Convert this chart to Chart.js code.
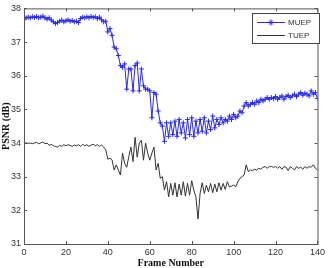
<!DOCTYPE html>
<html>
<head>
<meta charset="utf-8">
<script src="https://cdn.jsdelivr.net/npm/chart.js@4/dist/chart.umd.min.js"></script>
<style>
  html, body { margin: 0; padding: 0; background: #fff; }
  #wrap { width: 328px; height: 268px; }
</style>
</head>
<body>
<div id="wrap"><canvas id="chart" width="328" height="268"></canvas></div>
<script>
// frame numbers 0..140, one value per frame
const muep = [
    37.68, 37.72, 37.74, 37.72, 37.75, 37.73, 37.76, 37.72, 37.74, 37.77,
    37.72, 37.68, 37.72, 37.65, 37.6, 37.55, 37.58, 37.62, 37.65, 37.6,
    37.63, 37.66, 37.62, 37.64, 37.6, 37.62, 37.58, 37.7, 37.74, 37.72,
    37.75, 37.72, 37.76, 37.73, 37.75, 37.7, 37.74, 37.66, 37.6, 37.62,
    37.3, 37.4, 37.2, 36.85, 36.8, 36.6, 36.3, 36.25, 36.35, 35.6,
    36.2, 36.2, 35.55, 36.3, 36.38, 35.55, 36.2, 35.7, 35.6, 35.6,
    35.55, 34.75, 35.5, 35.45, 34.95, 34.6, 34.5, 34.05, 34.6, 34.2,
    34.6, 34.25, 34.65, 34.2, 34.7, 34.3, 34.6, 34.15, 34.7, 34.25,
    34.75, 34.2, 34.65, 34.3, 34.7, 34.35, 34.75, 34.3, 34.65, 34.4,
    34.8, 34.45, 34.7, 34.55, 34.75, 34.6, 34.7, 34.65, 34.8, 34.7,
    34.85, 34.75, 34.8, 34.95, 34.9, 35.1, 35.2, 35.1, 35.15, 35.2,
    35.15, 35.25, 35.2, 35.3, 35.25, 35.3, 35.35, 35.3, 35.35, 35.32,
    35.38, 35.3, 35.35, 35.4, 35.3, 35.38, 35.42, 35.35, 35.4, 35.45,
    35.38, 35.45, 35.5, 35.42, 35.48, 35.45, 35.4, 35.55, 35.45, 35.5,
    35.32
];
const tuep = [
    34.0, 34.0, 33.99, 34.0, 33.98, 34.0, 34.02, 33.98, 34.0, 34.03,
    33.98, 34.0, 33.93, 33.96, 33.92, 33.9, 33.88, 33.93, 33.9, 33.95,
    33.92, 33.95, 33.93, 33.9, 33.94, 33.92, 33.95, 33.9, 33.96, 33.92,
    33.95, 33.9, 33.94, 33.96, 33.92, 33.95, 33.9, 33.94, 33.88, 33.8,
    33.52, 33.55, 33.5, 33.2, 33.35, 33.2, 33.05, 33.7, 33.4, 33.28,
    33.6, 33.88, 33.45, 34.17, 33.58, 34.0, 34.08, 33.49, 34.0, 33.7,
    33.49, 33.7, 33.88, 33.2, 33.4, 32.95, 33.0, 32.6, 32.85, 32.4,
    32.8, 32.45, 32.82, 32.4, 32.78, 32.45, 32.85, 32.42, 32.8, 32.45,
    32.88, 32.6, 32.4, 31.74, 32.5, 32.82, 32.5, 32.75, 32.55, 32.8,
    32.52, 32.78, 32.55, 32.82, 32.6, 32.8, 32.62, 32.85, 32.7, 32.72,
    32.75, 32.7, 32.85, 32.95, 33.0, 33.05, 33.35, 33.15, 33.2, 33.18,
    33.22, 33.2, 33.25, 33.22, 33.28, 33.3, 33.25, 33.3, 33.3, 33.28,
    33.3, 33.25, 33.3, 33.22, 33.3, 33.28, 33.18, 33.3, 33.25, 33.2,
    33.3, 33.25, 33.28, 33.22, 33.3, 33.25, 33.3, 33.28, 33.35, 33.25,
    33.2
];
const xTicks = [0, 20, 40, 60, 80, 100, 120, 140];
const yTicks = [31, 32, 33, 34, 35, 36, 37, 38];
const seriesNames = ["MUEP", "TUEP"];

const blue = "#2a2aee";
const dark = "#333333";

function toPoints(arr) {
    return arr.map((v, i) => ({ x: i, y: v }));
}

// matlab style box, inward ticks, axis titles and legend
const matlabFrame = {
    id: "matlabFrame",
    afterDraw(chart) {
        const ctx = chart.ctx;
        const a = chart.chartArea;
        const xs = chart.scales.x;
        const ys = chart.scales.y;
        ctx.save();
        ctx.strokeStyle = "#555";
        ctx.lineWidth = 1;
        ctx.strokeRect(a.left + 0.5, a.top + 0.5, a.right - a.left, a.bottom - a.top);
        ctx.beginPath();
        for (const t of xTicks) {
            const px = Math.round(xs.getPixelForValue(t)) + 0.5;
            ctx.moveTo(px, a.bottom); ctx.lineTo(px, a.bottom - 3);
            ctx.moveTo(px, a.top); ctx.lineTo(px, a.top + 3);
        }
        for (const t of yTicks) {
            const py = Math.round(ys.getPixelForValue(t)) + 0.5;
            ctx.moveTo(a.left, py); ctx.lineTo(a.left + 3, py);
            ctx.moveTo(a.right, py); ctx.lineTo(a.right - 3, py);
        }
        ctx.stroke();

        // axis titles
        ctx.fillStyle = "#111";
        ctx.font = "bold 10px 'Liberation Serif', serif";
        ctx.textAlign = "center";
        ctx.textBaseline = "middle";
        ctx.fillText("Frame Number", (a.left + a.right) / 2, 263);
        ctx.translate(6, (a.top + a.bottom) / 2);
        ctx.rotate(-Math.PI / 2);
        ctx.fillText("PSNR (dB)", 0, 0);
        ctx.restore();

        // legend box
        ctx.save();
        const lx = 252, ly = 13, lw = 67, lh = 30;
        ctx.fillStyle = "#fff";
        ctx.fillRect(lx, ly, lw, lh);
        ctx.strokeStyle = "#444";
        ctx.strokeRect(lx + 0.5, ly + 0.5, lw, lh);
        const rows = [ly + 9, ly + 22];
        const colors = [blue, dark];
        ctx.font = "8px 'Liberation Sans', Arial, sans-serif";
        ctx.textBaseline = "middle";
        ctx.textAlign = "left";
        for (let i = 0; i < 2; i++) {
            ctx.strokeStyle = colors[i];
            ctx.lineWidth = 1;
            ctx.beginPath();
            ctx.moveTo(lx + 5, rows[i] + 0.5);
            ctx.lineTo(lx + 33, rows[i] + 0.5);
            ctx.stroke();
            if (i === 0) {
                const cx = lx + 19, cy = rows[i] + 0.5;
                ctx.beginPath();
                ctx.moveTo(cx, cy - 3); ctx.lineTo(cx, cy + 3);
                ctx.moveTo(cx - 2, cy - 2); ctx.lineTo(cx + 2, cy + 2);
                ctx.moveTo(cx + 2, cy - 2); ctx.lineTo(cx - 2, cy + 2);
                ctx.stroke();
            }
            ctx.fillStyle = "#333";
            ctx.fillText(seriesNames[i], lx + 36, rows[i] + 1);
        }
        ctx.restore();
    }
};

new Chart(document.getElementById("chart"), {
    type: "line",
    data: {
        datasets: [{
            label: seriesNames[0],
            data: toPoints(muep),
            borderColor: blue,
            backgroundColor: blue,
            borderWidth: 1,
            pointStyle: "cross",
            pointRadius: 2.5,
            pointBorderWidth: 1,
            tension: 0
        }, {
            label: seriesNames[1],
            data: toPoints(tuep),
            borderColor: dark,
            borderWidth: 1,
            pointRadius: 0,
            tension: 0
        }]
    },
    options: {
        responsive: false,
        animation: false,
        events: [],
        layout: { padding: { top: 8, right: 6, left: 0, bottom: 0 } },
        plugins: { legend: { display: false }, tooltip: { enabled: false } },
        scales: {
            x: {
                type: "linear",
                min: 0,
                max: 140,
                afterFit: s => { s.height = 24; },
                afterBuildTicks: s => { s.ticks = xTicks.map(v => ({ value: v })); },
                grid: { display: false, drawTicks: false },
                border: { display: false },
                ticks: {
                    padding: 3,
                    maxRotation: 0,
                    color: "#333",
                    font: { family: "'Liberation Sans', Arial, sans-serif", size: 9 }
                }
            },
            y: {
                min: 31,
                max: 38,
                afterFit: s => { s.width = 24; },
                afterBuildTicks: s => { s.ticks = yTicks.map(v => ({ value: v })); },
                grid: { display: false, drawTicks: false },
                border: { display: false },
                ticks: {
                    padding: 3,
                    color: "#333",
                    font: { family: "'Liberation Sans', Arial, sans-serif", size: 9 }
                }
            }
        }
    },
    plugins: [matlabFrame]
});
</script>
</body>
</html>
